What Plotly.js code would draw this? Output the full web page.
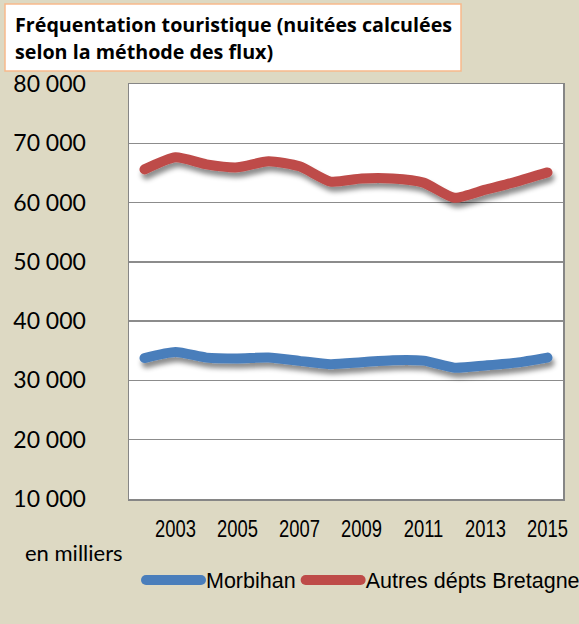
<!DOCTYPE html>
<html>
<head>
<meta charset="utf-8">
<script src="https://cdn.plot.ly/plotly-3.0.1.min.js"></script>
<style>
  html, body { margin: 0; padding: 0; background: #ddd9c3; }
  #chart { width: 579px; height: 624px; }
  .js-line { stroke-linecap: round; stroke-linejoin: round; }
  .scatterlayer .js-line { filter: url(#lineShadow); }
</style>
</head>
<body>
<svg width="0" height="0" style="position:absolute">
  <defs>
    <filter id="lineShadow" filterUnits="userSpaceOnUse" x="-1000" y="-1000" width="5000" height="5000">
      <feGaussianBlur in="SourceAlpha" stdDeviation="2.5" result="blur"/>
      <feOffset in="blur" dx="2" dy="5" result="off"/>
      <feFlood flood-color="#000" flood-opacity="0.45" result="col"/>
      <feComposite in="col" in2="off" operator="in" result="shadow"/>
      <feMerge><feMergeNode in="shadow"/><feMergeNode in="SourceGraphic"/></feMerge>
    </filter>
  </defs>
</svg>
<div id="chart"></div>
<script>
const years = [2002, 2003, 2004, 2005, 2006, 2007, 2008, 2009, 2010, 2011, 2012, 2013, 2014, 2015];
const morbihan = [33770, 34800, 33850, 33710, 33850, 33300, 32740, 33070, 33420, 33340, 32140, 32530, 33000, 33850];
const autresBretagne = [65600, 67650, 66450, 65940, 66970, 66110, 63540, 64060, 64060, 63370, 60800, 62170, 63540, 65090];
const seriesNames = ["Morbihan", "Autres dépts Bretagne"];
const xTickVals = [2003, 2005, 2007, 2009, 2011, 2013, 2015];
const xTickText = ["2003", "2005", "2007", "2009", "2011", "2013", "2015"];
const yTickVals = [10000, 20000, 30000, 40000, 50000, 60000, 70000, 80000];
const yTickText = ["10 000", "20 000", "30 000", "40 000", "50 000", "60 000", "70 000", "80 000"];
const titleLines = ["Fréquentation touristique (nuitées calculées", "selon la méthode des flux)"];
const unitLabel = "en milliers";

const arial = "'Liberation Sans', Arial, sans-serif";
const sans = "Lato, 'Noto Sans', sans-serif";
const titleFont = "'Open Sans', 'Noto Sans', sans-serif";

const traces = [
  {
    x: years, y: morbihan, name: seriesNames[0], type: "scatter", mode: "lines",
    line: { color: "#4a7ebb", width: 10, shape: "spline", smoothing: 0.6 }
  },
  {
    x: years, y: autresBretagne, name: seriesNames[1], type: "scatter", mode: "lines",
    line: { color: "#be4b48", width: 10, shape: "spline", smoothing: 0.6 }
  }
];

const W = 434, H = 415, L = 129, T = 84;
function px(xp) { return (xp - L) / W; }
function py(yp) { return (T + H - yp) / H; }

const layout = {
  width: 579, height: 624,
  paper_bgcolor: "#ddd9c3",
  plot_bgcolor: "#ffffff",
  margin: { l: 129, r: 16, t: 84, b: 125, pad: 0, autoexpand: false },
  showlegend: true,
  legend: {
    orientation: "h", x: px(585), xanchor: "right", y: py(580), yanchor: "middle",
    bgcolor: "rgba(0,0,0,0)",
    font: { family: arial, size: 21.5, color: "#000" },
    itemwidth: 55, tracegroupgap: 0, itemclick: false
  },
  xaxis: {
    range: [2001.5, 2015.5], tickmode: "array", tickvals: xTickVals, ticktext: xTickText,
    showgrid: false, zeroline: false, showline: true, mirror: true,
    linecolor: "#868686", linewidth: 1.5, ticks: "",
    tickfont: { family: arial, size: 23, color: "#000" }, ticklabelstandoff: 9
  },
  yaxis: {
    range: [10000, 80000], tickmode: "array", tickvals: yTickVals, ticktext: yTickText,
    showgrid: true, gridcolor: "#8c8c8c", gridwidth: 1.5, zeroline: false,
    showline: true, mirror: true, linecolor: "#868686", linewidth: 1.5, ticks: "",
    tickfont: { family: sans, size: 23, color: "#000" }, ticklabelstandoff: 37
  },
  shapes: [
    { type: "rect", xref: "paper", yref: "paper", x0: px(5), x1: px(461), y0: py(71), y1: py(4),
      fillcolor: "#ffffff", line: { color: "#f7b98c", width: 1.5 }, layer: "above" }
  ],
  annotations: [
    { xref: "paper", yref: "paper", x: px(13), y: py(24.5), xanchor: "left", yanchor: "middle",
      text: "<b>" + titleLines[0] + "</b>", showarrow: false,
      font: { family: titleFont, size: 19.7, color: "#000" } },
    { xref: "paper", yref: "paper", x: px(13), y: py(51.5), xanchor: "left", yanchor: "middle",
      text: "<b>" + titleLines[1] + "</b>", showarrow: false,
      font: { family: titleFont, size: 19.7, color: "#000" } },
    { xref: "paper", yref: "paper", x: px(74), y: py(552), xanchor: "center", yanchor: "middle",
      text: unitLabel, showarrow: false,
      font: { family: sans, size: 22, color: "#000" } }
  ]
};

Plotly.newPlot("chart", traces, layout, { displayModeBar: false, staticPlot: true }).then(function (gd) {
  // narrow the year labels (Arial Narrow look)
  gd.querySelectorAll(".xtick text").forEach(function (t) {
    const w = t.getComputedTextLength();
    t.setAttribute("textLength", (w * 0.8).toFixed(1));
    t.setAttribute("lengthAdjust", "spacingAndGlyphs");
  });
});
</script>
</body>
</html>
